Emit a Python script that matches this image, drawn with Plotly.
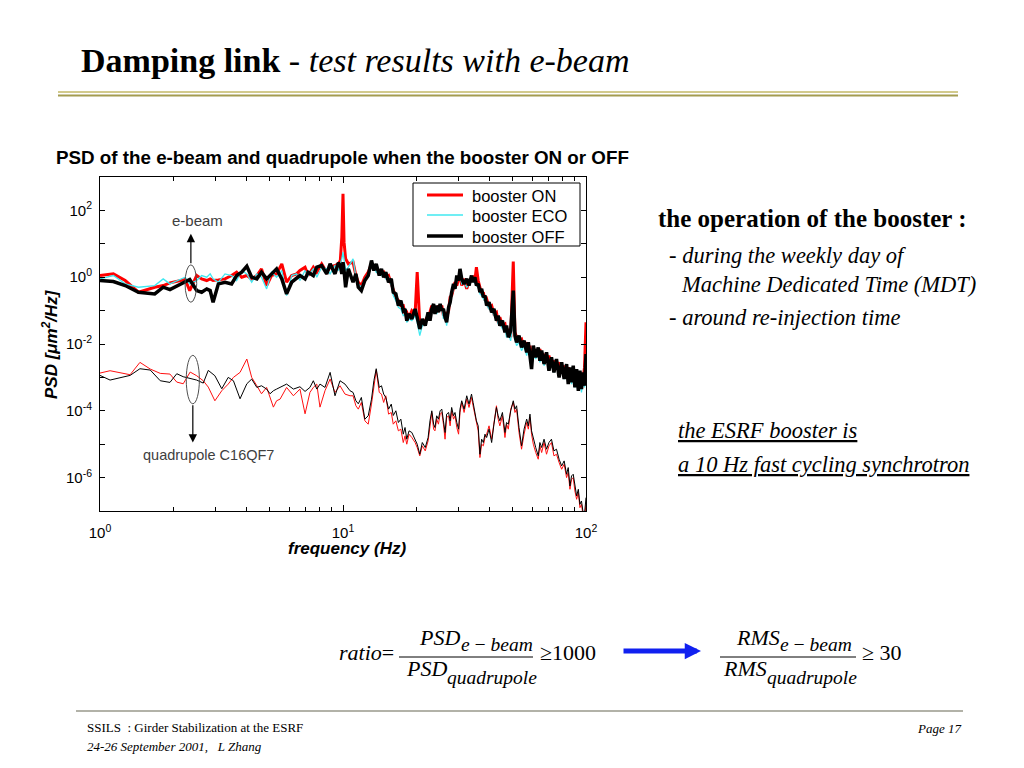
import numpy as np
import plotly.graph_objects as go

# ---------------- data ----------------
# e-beam spectra: frequency grid (Hz) and log10 PSD [um^2/Hz]
freq_ebeam_low = [1.00, 1.135, 1.27, 1.44, 1.68, 1.82, 1.94, 2.24, 2.34, 2.50, 2.62, 2.75, 2.84, 2.92,
                  3.07, 3.27, 3.48, 3.65, 3.83, 4.02, 4.21, 4.42, 4.62, 4.85, 5.08, 5.33, 5.60, 5.86,
                  6.15, 6.44, 6.65, 6.98, 7.19, 7.55, 7.80, 8.17, 8.57, 8.85, 9.27, 9.57, 9.75, 9.89,
                  10.0, 10.1, 10.25, 10.52]
freq_high = [11.0, 11.3, 11.56, 11.9, 12.3, 12.7, 13.1, 13.4, 13.7, 14.1, 14.4, 14.7, 15.0, 15.4, 15.8,
             16.1, 16.5, 16.9, 17.3, 17.7, 18.0, 18.3, 18.7, 19.2, 19.8, 20.2, 20.7, 21.2, 21.8, 22.4,
             22.8, 23.2, 23.6, 23.9, 24.3, 24.7, 25.1, 25.5, 25.9, 26.3, 26.7, 27.2, 27.6, 28.0, 28.5,
             28.9, 29.4, 29.9, 30.3, 30.8, 31.5, 32.3, 33.0, 33.8, 34.3, 34.9, 35.4, 36.0, 36.6, 37.2,
             37.8, 38.4, 39.0, 39.9, 40.9, 41.8, 42.8, 43.5, 44.2, 45.3, 46.4, 47.1, 47.9, 49.0, 50.2,
             51.0, 51.8, 53.0, 54.3, 55.6, 57.0, 57.9, 58.8, 59.7, 60.7, 62.1, 63.6, 64.6, 65.7, 67.2,
             68.8, 70.4, 72.1, 73.8, 75.6, 77.5, 79.4, 81.3, 83.2, 84.5, 85.9, 87.2, 88.6, 90.0, 91.5,
             93.0, 94.4, 95.8, 97.3, 98.6, 100.0]

on_low = [0.05, 0.10, -0.10, -0.45, -0.30, -0.25, -0.17, -0.07, -0.40, 0.05, -0.05, -0.10, -0.05, -0.10,
          -0.08, -0.05, 0.05, 0.15, 0.00, 0.05, -0.05, 0.05, 0.25, -0.25, 0.05, 0.10, 0.40, -0.15,
          0.05, 0.10, 0.20, 0.30, 0.05, 0.30, 0.15, 0.40, 0.15, 0.30, 0.35, 0.40, 0.50, 1.20,
          2.50, 1.05, 0.55, 0.40]
on_high = [0.45, 0.05, -0.15, -0.25, 0.00, 0.15, 0.40, 0.30, 0.25, 0.20, 0.10, 0.15, 0.00, 0.05, -0.20,
           -0.35, -0.60, -0.70, -0.85, -0.85, -1.10, -1.05, -1.20, -1.00, -1.10, 0.15, -1.40, -1.35, -1.30, -1.15,
           -1.05, -0.85, -1.00, -0.90, -1.05, -0.85, -0.95, -0.85, -1.15, -1.05, -1.20, -1.00, -0.60, -0.55, -0.30,
           -0.15, -0.25, 0.00, 0.10, -0.25, -0.05, -0.35, -0.10, -0.05, 0.00, -0.10, 0.30, -0.10, -0.35, -0.50,
           -0.45, -0.70, -0.65, -0.90, -0.85, -1.10, -1.05, -1.35, -1.20, -1.45, -1.40, -1.70, -1.55, -1.80, 0.47,
           -1.65, -1.80, -1.90, -1.85, -2.10, -1.95, -2.20, -2.05, -2.40, -2.15, -2.20, -2.35, -2.15, -2.45, -2.30,
           -2.55, -2.35, -2.65, -2.50, -2.70, -2.55, -2.85, -2.65, -2.90, -2.70, -3.00, -2.75, -3.05, -2.80, -3.15,
           -2.90, -3.20, -2.90, -3.05, -2.70, -1.35]

eco_low = [-0.05, 0.05, -0.20, -0.30, -0.25, -0.05, -0.20, 0.00, -0.20, -0.10, 0.05, 0.00, 0.10, -0.05,
           -0.15, 0.10, 0.05, -0.10, 0.20, 0.10, -0.15, 0.10, 0.00, -0.35, 0.15, 0.00, 0.20, -0.55,
           0.05, 0.10, -0.10, 0.20, 0.05, 0.25, 0.00, 0.30, 0.25, 0.10, 0.35, 0.20, 0.40, 0.55,
           0.75, 0.45, 0.20, 0.30]
eco_high = [0.55, 0.00, -0.20, -0.30, -0.05, 0.10, 0.35, 0.30, 0.15, 0.10, 0.05, 0.10, -0.05, 0.00, -0.25,
            -0.55, -0.70, -0.90, -0.95, -1.15, -1.10, -1.35, -1.25, -1.30, -1.15, -1.35, -1.75, -1.45, -1.40, -1.25,
            -1.15, -1.00, -1.05, -0.95, -1.10, -0.95, -1.00, -0.95, -1.25, -1.15, -1.45, -1.05, -0.70, -0.55, -0.35,
            -0.20, -0.15, -0.05, 0.05, -0.20, -0.15, -0.30, -0.20, -0.10, -0.10, -0.20, -0.25, -0.30, -0.50, -0.55,
            -0.65, -0.75, -0.80, -0.95, -1.00, -1.15, -1.20, -1.40, -1.35, -1.55, -1.55, -1.80, -1.70, -1.90, -1.20,
            -1.85, -2.05, -1.95, -2.20, -2.05, -2.35, -2.10, -2.40, -2.55, -2.25, -2.45, -2.30, -2.55, -2.35, -2.65,
            -2.40, -2.80, -2.55, -2.85, -2.60, -2.95, -2.70, -3.05, -2.75, -3.15, -2.85, -3.20, -2.85, -3.30, -2.95,
            -3.40, -3.00, -3.45, -3.05, -3.30, -2.60]

off_low = [-0.10, -0.13, -0.25, -0.45, -0.50, -0.30, -0.37, -0.15, -0.07, -0.40, -0.45, -0.35, -0.40, -0.75,
           -0.20, -0.15, -0.20, 0.05, 0.15, 0.33, 0.00, -0.05, 0.15, -0.05, 0.10, 0.25, -0.05, -0.50,
           -0.15, -0.05, 0.05, -0.05, 0.15, 0.05, 0.30, 0.35, 0.10, 0.40, 0.10, 0.43, 0.35, 0.10,
           0.45, 0.20, -0.30, 0.25]
off_high = [-0.15, 0.10, -0.30, -0.40, -0.10, 0.05, 0.50, 0.20, 0.40, 0.05, 0.25, 0.00, 0.15, -0.15, -0.05,
            -0.45, -0.50, -0.85, -0.70, -1.00, -0.95, -1.30, -1.10, -1.25, -0.95, -1.20, -1.55, -1.25, -1.45, -1.05,
            -1.30, -0.95, -0.80, -1.10, -0.85, -1.05, -0.80, -1.00, -0.95, -1.20, -1.35, -0.90, -0.75, -0.45, -0.20,
            -0.35, 0.05, -0.10, 0.25, -0.05, -0.20, -0.05, -0.25, 0.05, -0.15, 0.00, -0.25, -0.20, -0.45, -0.35,
            -0.60, -0.55, -0.85, -0.75, -1.05, -0.95, -1.30, -1.15, -1.45, -1.30, -1.65, -1.45, -1.80, -1.60, -0.40,
            -1.75, -1.95, -1.75, -2.10, -1.90, -2.25, -1.95, -2.30, -2.75, -2.05, -2.40, -2.10, -2.50, -2.20, -2.60,
            -2.25, -2.80, -2.40, -2.85, -2.45, -3.00, -2.55, -3.05, -2.60, -3.20, -2.70, -3.15, -2.65, -3.30, -2.75,
            -3.40, -2.80, -3.35, -2.85, -3.25, -2.30]

# quadrupole C16QF7 spectra (log10 PSD)
freq_quad_low = [1.00, 1.10, 1.33, 1.46, 1.61, 1.77, 1.94, 2.07, 2.20, 2.35, 2.50, 2.66, 2.79, 2.97,
                 3.17, 3.37, 3.54, 3.77, 4.02, 4.21, 4.42, 4.62, 4.85, 5.01, 5.17, 5.33, 5.51, 5.86,
                 6.25, 6.65, 6.98, 7.31, 7.55, 7.80, 8.04, 8.43, 8.85, 9.27, 9.72, 10.19, 10.69]
quad_on_low = [-2.87, -2.80, -2.92, -2.55, -2.75, -2.88, -2.90, -3.14, -3.19, -2.84, -2.95, -3.10, -3.29, -3.70,
               -3.40, -3.20, -3.00, -2.85, -2.45, -3.00, -3.25, -3.49, -3.30, -3.60, -3.89, -3.70, -3.65, -3.30,
               -3.55, -3.35, -4.09, -3.45, -3.30, -3.20, -3.89, -3.40, -3.05, -3.45, -3.25, -3.50, -3.55]
quad_off_low = [-2.94, -3.08, -2.94, -2.74, -2.78, -3.10, -3.15, -2.89, -2.98, -3.04, -3.08, -3.17, -2.79, -2.95,
                -3.34, -3.00, -3.10, -3.64, -3.19, -3.05, -3.30, -3.25, -3.35, -3.49, -3.40, -3.35, -3.30, -3.20,
                -3.35, -3.28, -3.42, -3.30, -3.10, -3.35, -3.20, -3.30, -2.85, -3.55, -3.10, -3.20, -3.40]
quad_on_high = [-3.55, -3.85, -3.95, -3.75, -4.30, -4.40, -3.80, -3.20, -2.78, -3.45, -3.50, -3.75, -3.55, -4.10, -4.05,
                -4.40, -4.30, -4.60, -4.55, -4.95, -4.75, -5.00, -4.70, -4.80, -4.95, -5.10, -5.35, -5.05, -5.20, -4.90,
                -4.45, -4.05, -4.55, -4.60, -4.25, -4.40, -4.10, -4.05, -4.40, -4.85, -4.20, -4.15, -4.45, -4.00, -4.25,
                -4.15, -4.50, -4.70, -4.05, -3.75, -4.05, -3.65, -3.90, -3.60, -3.85, -4.15, -4.40, -4.60, -5.40, -5.00,
                -5.05, -4.80, -4.70, -4.45, -4.85, -4.30, -3.85, -4.25, -4.45, -4.15, -4.80, -4.40, -4.55, -3.95, -3.75,
                -4.05, -3.95, -4.65, -5.15, -4.70, -4.35, -4.55, -4.20, -4.70, -5.00, -5.25, -5.45, -5.05, -5.25, -4.95,
                -5.30, -5.05, -4.95, -5.35, -5.30, -5.55, -5.75, -5.60, -6.00, -5.85, -6.35, -6.05, -6.00, -6.40, -6.65,
                -6.45, -6.90, -6.80, -7.15, -7.20, -6.80]
quad_off_high = [-3.45, -3.70, -3.79, -3.60, -4.25, -4.15, -3.65, -3.10, -2.74, -3.30, -3.25, -3.50, -3.60, -3.95, -3.80,
                 -4.14, -4.00, -4.35, -4.25, -4.70, -4.50, -4.85, -4.60, -4.65, -4.85, -5.00, -5.30, -4.95, -5.10, -4.80,
                 -4.30, -4.00, -4.40, -4.50, -4.15, -4.25, -4.00, -3.95, -4.30, -4.65, -4.10, -4.05, -4.30, -3.90, -4.15,
                 -4.05, -4.35, -4.55, -3.95, -3.70, -3.95, -3.55, -3.80, -3.50, -3.75, -4.05, -4.30, -4.45, -5.30, -4.85,
                 -4.95, -4.70, -4.80, -4.55, -4.95, -4.40, -3.90, -4.15, -4.30, -4.05, -4.65, -4.35, -4.40, -4.00, -3.70,
                 -3.95, -3.85, -4.50, -5.05, -4.55, -4.25, -4.45, -4.10, -4.60, -4.85, -5.10, -5.35, -4.95, -5.10, -4.85,
                 -5.15, -4.95, -4.85, -5.20, -5.15, -5.45, -5.65, -5.50, -5.90, -5.70, -6.25, -5.95, -5.90, -6.30, -6.55,
                 -6.35, -6.80, -6.70, -7.05, -7.10, -6.60]

legend_names = ["booster ON", "booster ECO", "booster OFF"]
series_colors = ["#ff0000", "#40e8f0", "#000000"]
series_widths = [3, 1.3, 3.5]
x_tick_vals = [1, 10, 100]
x_tick_text = ["10<sup>0</sup>", "10<sup>1</sup>", "10<sup>2</sup>"]
x_minor_vals = [2, 3, 4, 5, 6, 7, 8, 9, 20, 30, 40, 50, 60, 70, 80, 90]
y_tick_exps = [-6, -5, -4, -3, -2, -1, 0, 1, 2]
y_tick_text = ["10<sup>-6</sup>", "", "10<sup>-4</sup>", "", "10<sup>-2</sup>", "", "10<sup>0</sup>", "", "10<sup>2</sup>"]

# ---------------- figure ----------------
def lin(v):
    return np.power(10.0, np.array(v, dtype=float))

f_eb = freq_ebeam_low + freq_high
f_q = freq_quad_low + freq_high

SANS = "Liberation Sans, Arial, sans-serif"
SERIF = "Liberation Serif, Times New Roman, serif"

fig = go.Figure()
fig.add_trace(go.Scatter(x=f_q, y=lin(quad_on_low + quad_on_high), mode="lines",
                         line=dict(color="#ff1010", width=1), showlegend=False))
fig.add_trace(go.Scatter(x=f_q, y=lin(quad_off_low + quad_off_high), mode="lines",
                         line=dict(color="#000000", width=1), showlegend=False))
for name, vals, col, w in zip(legend_names,
                              [on_low + on_high, eco_low + eco_high, off_low + off_high],
                              series_colors, series_widths):
    fig.add_trace(go.Scatter(x=f_eb, y=lin(vals), mode="lines", name=name,
                             line=dict(color=col, width=w), showlegend=False))

# The page is shown with an 8px body margin: figure is 1016x760 placed at (8,8).
OFF = 8
FW, FH = 1024 - OFF, 768 - OFF
# plot area in page pixels
L, R, T, B = 100, 586, 177, 511
def PX(x):
    return (x - L) / (R - L)
def PY(y):
    return (B - y) / (B - T)

ann = []
def txt(x, y, text, size, family=SERIF, xanchor="left", color="black", angle=0):
    ann.append(dict(xref="paper", yref="paper", x=PX(x), y=PY(y), text=text, showarrow=False,
                    xanchor=xanchor, yanchor="middle", textangle=angle,
                    font=dict(size=size, family=family, color=color)))

# header
txt(79, 61, "<b>Damping link</b> - <i>test results with e-beam</i>", 34)
# chart title
txt(54, 158, "<b>PSD of the e-beam and quadrupole when the booster ON or OFF</b>", 18.8, SANS)
# axis titles
txt(347, 548, "<b><i>frequency (Hz)</i></b>", 17, SANS, xanchor="center")
txt(50, 344, "<b><i>PSD [μm<sup>2</sup>/Hz]</i></b>", 17, SANS, xanchor="center", angle=-90)
# right side texts
txt(656, 218, "<b>the operation of the booster :</b>", 25)
txt(667, 255, "- <i>during the weekly day of</i>", 22.5)
txt(679, 284, "<i>Machine Dedicated Time (MDT)</i>", 22.5)
txt(667, 317, "- <i>around re-injection time</i>", 22.5)
txt(676, 430, "<i><u>the ESRF booster is</u></i>", 22.5)
txt(676, 464, "<i><u>a 10 Hz fast cycling synchrotron</u></i>", 22.5)
# formula
txt(337, 652, "<i>ratio</i>=", 22)
txt(417, 637, "<i>PSD</i>", 22)
txt(459, 644, "<i>e&#8201;−&#8201;beam</i>", 19.5)
txt(404, 668, "<i>PSD</i>", 22)
txt(445, 677, "<i>quadrupole</i>", 19.5)
txt(538, 652, "≥1000", 22)
txt(734, 637, "<i>RMS</i>", 22)
txt(778, 644, "<i>e&#8201;−&#8201;beam</i>", 19.5)
txt(721, 668, "<i>RMS</i>", 22)
txt(765, 677, "<i>quadrupole</i>", 19.5)
txt(860, 652, "≥ 30", 22)
# footer
txt(85, 727, "SSILS&nbsp;&nbsp;: Girder Stabilization at the ESRF", 13)
txt(85, 746, "<i>24-26 September 2001,&nbsp;&nbsp; L Zhang</i>", 13)
txt(963, 728, "<i>Page 17</i>", 13, xanchor="right")

# legend (drawn as box + samples + texts)
leg_rows_y = [195, 215, 236]
for name, col, w, yy in zip(legend_names, series_colors, series_widths, leg_rows_y):
    txt(470, yy + 1, name, 16.5, SANS)

# blue arrow (tail offset in pixels)
ann.append(dict(xref="paper", yref="paper", x=PX(701), y=PY(651), ax=-79, ay=0,
                axref="pixel", ayref="pixel", text="", showarrow=True, arrowhead=2,
                arrowsize=0.65, arrowwidth=5, arrowcolor="#1020f0"))

# in-plot annotations (log10 data units for annotations on log axes)
ann.append(dict(xref="x", yref="y", x=0.40, y=1.70, text="e-beam", showarrow=False,
                font=dict(size=15, family=SANS, color="#404040")))
ann.append(dict(xref="x", yref="y", x=0.447, y=-5.31, text="quadrupole C16QF7", showarrow=False,
                font=dict(size=14.5, family=SANS, color="#404040")))
ann.append(dict(xref="x", yref="y", x=0.374, y=1.30, ax=0.374, ay=0.37, axref="x", ayref="y",
                text="", showarrow=True, arrowhead=2, arrowsize=1.4, arrowwidth=1.2, arrowcolor="black"))
ann.append(dict(xref="x", yref="y", x=0.382, y=-4.95, ax=0.382, ay=-3.79, axref="x", ayref="y",
                text="", showarrow=True, arrowhead=2, arrowsize=1.4, arrowwidth=1.2, arrowcolor="black"))

def pline(x0, y0, x1, y1, color, width):
    return dict(type="line", xref="paper", yref="paper", x0=PX(x0), x1=PX(x1), y0=PY(y0), y1=PY(y1),
                line=dict(color=color, width=width))

shapes = [
    # ellipses marking the two spectra groups (shapes on log axes take data values)
    dict(type="circle", xref="x", yref="y", x0=10 ** 0.350, x1=10 ** 0.398, y0=10 ** -0.75, y1=10 ** 0.37,
         line=dict(color="#505050", width=1)),
    dict(type="circle", xref="x", yref="y", x0=10 ** 0.355, x1=10 ** 0.409, y0=10 ** -3.79, y1=10 ** -2.34,
         line=dict(color="#505050", width=1)),
    # header double rule
    pline(58, 92, 958, 92, "#d2ca8c", 2),
    pline(58, 95.5, 958, 95.5, "#a49c50", 2),
    # footer rule
    pline(76, 711, 963, 711, "#666652", 1.2),
    # fraction bars
    pline(399, 657, 533, 657, "black", 1),
    pline(720, 657, 856, 657, "black", 1),
    # legend box
    dict(type="rect", xref="paper", yref="paper", x0=PX(413), x1=PX(580), y0=PY(246), y1=PY(183),
         line=dict(color="black", width=1), fillcolor="white"),
]
for col, w, yy in zip(series_colors, series_widths, leg_rows_y):
    shapes.append(pline(427, yy, 463, yy, col, w))

fig.update_layout(
    width=FW, height=FH,
    margin=dict(l=L - OFF, r=FW - (R - OFF), t=T - OFF, b=FH - (B - OFF), pad=0),
    paper_bgcolor="white", plot_bgcolor="white",
    showlegend=False,
    annotations=ann, shapes=shapes, hovermode=False,
)
fig.update_xaxes(type="log", range=[0, 2], showgrid=False, zeroline=False,
                 showline=True, linecolor="black", linewidth=1, mirror="ticks",
                 ticks="inside", ticklen=6, tickcolor="black",
                 tickvals=x_tick_vals, ticktext=x_tick_text,
                 tickfont=dict(size=15, family=SANS, color="black"), ticklabelstandoff=8,
                 minor=dict(tickvals=x_minor_vals, ticks="inside", ticklen=4, tickcolor="black"))
fig.update_yaxes(type="log", range=[-7, 3], showgrid=False, zeroline=False,
                 showline=True, linecolor="black", linewidth=1, mirror="ticks",
                 ticks="inside", ticklen=5, tickcolor="black",
                 tickvals=[10.0 ** e for e in y_tick_exps], ticktext=y_tick_text,
                 tickfont=dict(size=15, family=SANS, color="black"), ticklabelstandoff=4)

fig.write_html("out.html")
